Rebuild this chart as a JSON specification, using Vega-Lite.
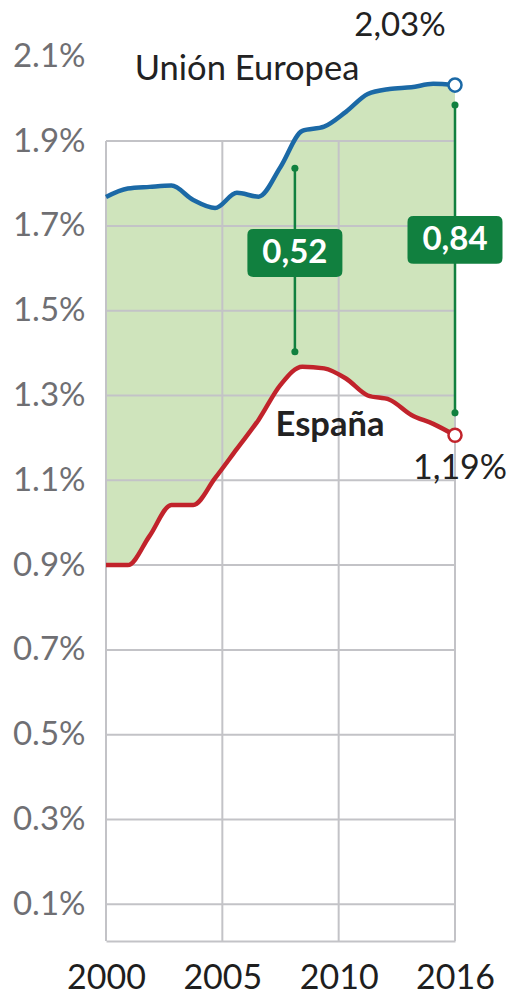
{
  "$schema": "https://vega.github.io/schema/vega-lite/v6.json",
  "autosize": "none",
  "width": 349,
  "height": 911,
  "padding": {"left": 106, "top": 30, "right": 52, "bottom": 52},
  "background": "white",
  "config": {"view": {"stroke": null}, "font": "Lato"},
  "datasets": {
    "series": [
      {"year": 2000, "eu": 1.768, "es": 0.900},
      {"year": 2001, "eu": 1.788, "es": 0.900},
      {"year": 2002, "eu": 1.792, "es": 0.969},
      {"year": 2003, "eu": 1.795, "es": 1.042},
      {"year": 2004, "eu": 1.761, "es": 1.042},
      {"year": 2005, "eu": 1.742, "es": 1.105},
      {"year": 2006, "eu": 1.778, "es": 1.174},
      {"year": 2007, "eu": 1.769, "es": 1.243},
      {"year": 2008, "eu": 1.839, "es": 1.325},
      {"year": 2009, "eu": 1.924, "es": 1.368},
      {"year": 2010, "eu": 1.934, "es": 1.364},
      {"year": 2011, "eu": 1.969, "es": 1.340},
      {"year": 2012, "eu": 2.011, "es": 1.300},
      {"year": 2013, "eu": 2.023, "es": 1.290},
      {"year": 2014, "eu": 2.027, "es": 1.254},
      {"year": 2015, "eu": 2.035, "es": 1.233},
      {"year": 2016, "eu": 2.032, "es": 1.206}
    ],
    "hgrid": [
      {"v": 0.1}, {"v": 0.3}, {"v": 0.5}, {"v": 0.7}, {"v": 0.9},
      {"v": 1.1}, {"v": 1.3}, {"v": 1.5}, {"v": 1.7}, {"v": 1.9}
    ],
    "vgrid": [
      {"x": 2000}, {"x": 2005.3333}, {"x": 2010.6667}, {"x": 2016}
    ],
    "gaps": [
      {"label": "0,52", "year": 2008.66, "top": 1.836, "bottom": 1.403, "box": 1.636},
      {"label": "0,84", "year": 2016, "top": 1.985, "bottom": 1.259, "box": 1.667}
    ]
  },
  "layer": [
    {
      "data": {"name": "series"},
      "mark": {"type": "area", "interpolate": "monotone", "color": "#cfe4bc"},
      "encoding": {
        "x": {
          "field": "year", "type": "quantitative", "title": null,
          "scale": {"domain": [2000, 2016], "nice": false, "zero": false},
          "axis": {
            "title": null,
            "values": [2000, 2005.3333, 2010.6667, 2016],
            "labelExpr": "datum.value < 2001 ? '2000' : datum.value < 2006 ? '2005' : datum.value < 2011 ? '2010' : '2016'",
            "grid": false, "ticks": false,
            "domain": true, "domainColor": "#c3c3c7", "domainWidth": 2,
            "labelFont": "Lato", "labelFontSize": 34, "labelColor": "#1e1e1e",
            "labelPadding": 20, "labelBaseline": "top", "labelFlush": false, "labelOverlap": false
          }
        },
        "y": {
          "field": "eu", "type": "quantitative", "title": null,
          "scale": {"domain": [0.0134, 2.162], "nice": false, "zero": false},
          "axis": {
            "title": null,
            "values": [0.1, 0.3, 0.5, 0.7, 0.9, 1.1, 1.3, 1.5, 1.7, 1.9, 2.1],
            "labelExpr": "format(datum.value, '.1f') + '%'",
            "grid": false, "ticks": false, "domain": false,
            "labelFont": "Lato", "labelFontSize": 33, "labelColor": "#6f6f73",
            "labelPadding": 21, "labelFlush": false, "labelOverlap": false, "labelBaseline": "middle"
          }
        },
        "y2": {"field": "es"}
      }
    },
    {
      "data": {"name": "hgrid"},
      "mark": {"type": "rule", "color": "#c3c3c7", "strokeWidth": 2},
      "encoding": {
        "y": {"field": "v", "type": "quantitative", "title": null},
        "x": {"datum": 2000, "type": "quantitative", "title": null},
        "x2": {"datum": 2016}
      }
    },
    {
      "data": {"name": "vgrid"},
      "mark": {"type": "rule", "color": "#c3c3c7", "strokeWidth": 2},
      "encoding": {
        "x": {"field": "x", "type": "quantitative", "title": null},
        "y": {"datum": 0.0134, "type": "quantitative", "title": null},
        "y2": {"datum": 1.9}
      }
    },
    {
      "data": {"name": "series"},
      "mark": {"type": "line", "interpolate": "monotone", "color": "#1b69a6", "strokeWidth": 4.5},
      "encoding": {
        "x": {"field": "year", "type": "quantitative", "title": null},
        "y": {"field": "eu", "type": "quantitative", "title": null}
      }
    },
    {
      "data": {"name": "series"},
      "mark": {"type": "line", "interpolate": "monotone", "color": "#c1232b", "strokeWidth": 4.5},
      "encoding": {
        "x": {"field": "year", "type": "quantitative", "title": null},
        "y": {"field": "es", "type": "quantitative", "title": null}
      }
    },
    {
      "data": {"name": "gaps"},
      "mark": {"type": "rule", "color": "#11803f", "strokeWidth": 2.5},
      "encoding": {
        "x": {"field": "year", "type": "quantitative", "title": null},
        "y": {"field": "top", "type": "quantitative", "title": null},
        "y2": {"field": "bottom"}
      }
    },
    {
      "data": {"name": "gaps"},
      "mark": {"type": "point", "filled": true, "color": "#11803f", "size": 50, "opacity": 1},
      "encoding": {
        "x": {"field": "year", "type": "quantitative", "title": null},
        "y": {"field": "top", "type": "quantitative", "title": null}
      }
    },
    {
      "data": {"name": "gaps"},
      "mark": {"type": "point", "filled": true, "color": "#11803f", "size": 50, "opacity": 1},
      "encoding": {
        "x": {"field": "year", "type": "quantitative", "title": null},
        "y": {"field": "bottom", "type": "quantitative", "title": null}
      }
    },
    {
      "data": {"name": "gaps"},
      "mark": {
        "type": "point", "filled": true, "color": "#11803f", "opacity": 1, "size": 9025,
        "shape": "M-0.874,-0.505H0.874Q1,-0.505,1,-0.379V0.379Q1,0.505,0.874,0.505H-0.874Q-1,0.505,-1,0.379V-0.379Q-1,-0.505,-0.874,-0.505Z"
      },
      "encoding": {
        "x": {"field": "year", "type": "quantitative", "title": null},
        "y": {"field": "box", "type": "quantitative", "title": null}
      }
    },
    {
      "data": {"name": "gaps"},
      "mark": {"type": "text", "color": "white", "font": "Lato", "fontWeight": "bold", "fontSize": 33, "align": "center", "baseline": "middle"},
      "encoding": {
        "x": {"field": "year", "type": "quantitative", "title": null},
        "y": {"field": "box", "type": "quantitative", "title": null},
        "text": {"field": "label"}
      }
    },
    {
      "data": {"values": [{"serie": "Unión Europea", "year": 2016, "value": 2.032}]},
      "mark": {"type": "point", "filled": true, "fill": "white", "stroke": "#1b69a6", "strokeWidth": 2.5, "size": 170, "opacity": 1},
      "encoding": {
        "x": {"field": "year", "type": "quantitative", "title": null},
        "y": {"field": "value", "type": "quantitative", "title": null}
      }
    },
    {
      "data": {"values": [{"serie": "España", "year": 2016, "value": 1.206}]},
      "mark": {"type": "point", "filled": true, "fill": "white", "stroke": "#c1232b", "strokeWidth": 2.5, "size": 170, "opacity": 1},
      "encoding": {
        "x": {"field": "year", "type": "quantitative", "title": null},
        "y": {"field": "value", "type": "quantitative", "title": null}
      }
    },
    {
      "data": {"values": [{"label": "2,03%", "year": 2016, "value": 2.032}]},
      "mark": {"type": "text", "font": "Lato", "fontSize": 33, "color": "#222222", "align": "center", "baseline": "alphabetic", "dx": -55, "dy": -49},
      "encoding": {
        "x": {"field": "year", "type": "quantitative", "title": null},
        "y": {"field": "value", "type": "quantitative", "title": null},
        "text": {"field": "label"}
      }
    },
    {
      "data": {"values": [{"label": "Unión Europea", "year": 2016, "value": 2.032}]},
      "mark": {"type": "text", "font": "Lato", "fontSize": 34.5, "color": "#222222", "align": "center", "baseline": "alphabetic", "dx": -208, "dy": -5},
      "encoding": {
        "x": {"field": "year", "type": "quantitative", "title": null},
        "y": {"field": "value", "type": "quantitative", "title": null},
        "text": {"field": "label"}
      }
    },
    {
      "data": {"values": [{"label": "España", "year": 2016, "value": 1.206}]},
      "mark": {"type": "text", "font": "Lato", "fontWeight": "bold", "fontSize": 34.5, "color": "#222222", "align": "center", "baseline": "alphabetic", "dx": -125, "dy": 1},
      "encoding": {
        "x": {"field": "year", "type": "quantitative", "title": null},
        "y": {"field": "value", "type": "quantitative", "title": null},
        "text": {"field": "label"}
      }
    },
    {
      "data": {"values": [{"label": "1,19%", "year": 2016, "value": 1.206}]},
      "mark": {"type": "text", "font": "Lato", "fontSize": 34, "color": "#222222", "align": "center", "baseline": "alphabetic", "dx": 5, "dy": 44},
      "encoding": {
        "x": {"field": "year", "type": "quantitative", "title": null},
        "y": {"field": "value", "type": "quantitative", "title": null},
        "text": {"field": "label"}
      }
    }
  ]
}
